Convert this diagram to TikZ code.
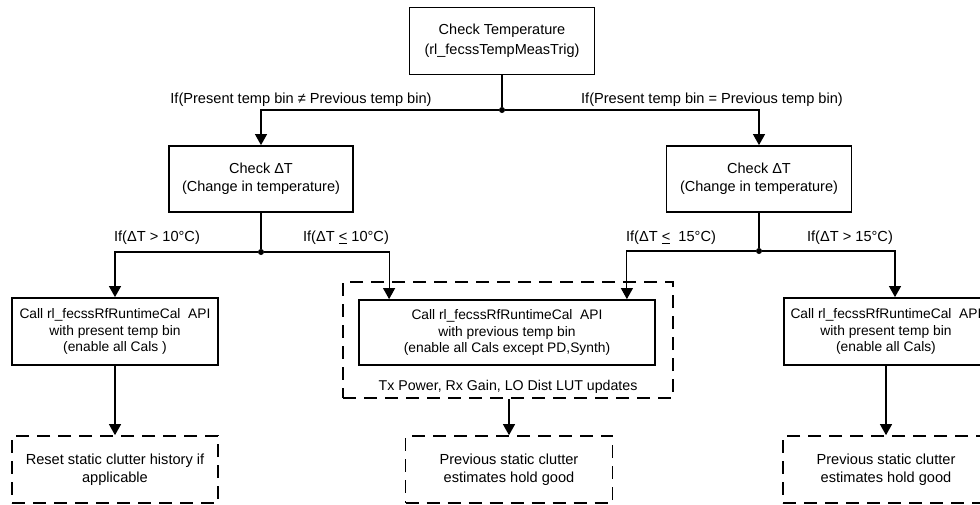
\documentclass[tikz,border=0pt]{standalone}
\usepackage{fontspec}
\setmainfont{Liberation Sans}
\usetikzlibrary{arrows.meta}

\begin{document}
\begin{tikzpicture}[x=1pt, y=-1pt,
    box/.style={draw, line width=1.8pt, align=center, inner sep=0pt, font=\fontsize{14.5}{18.3}\selectfont},
    callbox/.style={box, minimum height=67pt, font=\fontsize{13.8}{16.7}\selectfont},
    notebox/.style={draw, line width=1.7pt, dash pattern=on 13pt off 8pt, align=center, inner sep=0pt,
        minimum width=206pt, minimum height=67pt, font=\fontsize{14.6}{17.7}\selectfont},
    lbl/.style={inner sep=0pt, font=\fontsize{14.6}{17}\selectfont},
    link/.style={line width=1.1pt},
    arr/.style={link, -{Triangle[width=12pt,length=11pt]}},
    dot/.style={circle, fill, inner sep=0pt, minimum size=6pt}]

    % Page size of the picture
    \useasboundingbox (0,0) rectangle (980,504);
    \clip (0,0) rectangle (980,504);

    % Temperature check
    \node[box, minimum width=185pt, minimum height=67pt, font=\fontsize{14.5}{20}\selectfont] (chk) at (502,41)
        {Check Temperature\\(rl\_fecssTempMeasTrig)};

    % Change in temperature checks
    \node[box, minimum width=184pt, minimum height=66pt] (dtL) at (261,179) {Check ΔT\\(Change in temperature)};
    \node[box, minimum width=185pt, minimum height=66pt] (dtR) at (759,179) {Check ΔT\\(Change in temperature)};

    % Runtime calibration calls
    \node[callbox, minimum width=206pt] (callL) at (115,331.5)
        {Call rl\_fecssRfRuntimeCal\ \ API\\with present temp bin\\(enable all Cals )};
    \node[draw, line width=1.7pt, dash pattern=on 13pt off 8pt, minimum width=330pt, minimum height=116pt] (grp) at (508,340) {};
    \node[callbox, minimum width=296pt, minimum height=65pt] (callM) at (507,332.5)
        {Call rl\_fecssRfRuntimeCal\ \ API\\with previous temp bin\\(enable all Cals except PD,Synth)};
    \node[lbl, font=\fontsize{14.2}{17}\selectfont] (upd) at (508,387) {Tx Power, Rx Gain, LO Dist LUT updates};
    \node[callbox, minimum width=204pt] (callR) at (886,331.5)
        {Call rl\_fecssRfRuntimeCal\ \ API\\with present temp bin\\(enable all Cals)};

    % Static clutter notes
    \node[notebox] (resL) at (115,469.5) {Reset static clutter history if\\applicable};
    \node[notebox, minimum width=207pt] (resM) at (509,469.5) {Previous static clutter\\estimates hold good};
    \node[notebox] (resR) at (886,469.5) {Previous static clutter\\estimates hold good};

    % Branch points
    \node[dot] (j0) at (502,110) {};
    \node[dot] (j1) at (261,252) {};
    \node[dot] (j2) at (759,251) {};

    % Branch labels
    \node[lbl] (lbNe) at (301,100) {If(Present temp bin ≠ Previous temp bin)};
    \node[lbl] (lbEq) at (712,100) {If(Present temp bin = Previous temp bin)};
    \node[lbl] (lbA) at (157,238) {If(ΔT > 10°C)};
    \node[lbl] (lbB) at (346,238) {If(ΔT \underline{<} 10°C)};
    \node[lbl] (lbC) at (671,238) {If(ΔT \underline{<}\ \ 15°C)};
    \node[lbl] (lbD) at (850,238) {If(ΔT > 15°C)};

    % Connectors
    \draw[link] (chk) -- (j0);
    \draw[arr] (j0) -| (dtL.north);
    \draw[arr] (j0) -| (dtR.north);
    \draw[link] (dtL) -- (j1);
    \draw[link] (dtR) -- (j2);
    \draw[arr] (j1) -| (callL.north);
    \draw[arr] (j1) -| ([xshift=31pt]callM.north west);
    \draw[arr] (j2) -| ([xshift=-29pt]callM.north east);
    \draw[arr] (j2) -| ([xshift=9pt]callR.north);
    \draw[arr] (callL) -- (resL);
    \draw[arr] (grp.south -| resM.north) -- (resM.north);
    \draw[arr] (callR) -- (resR);
\end{tikzpicture}
\end{document}
